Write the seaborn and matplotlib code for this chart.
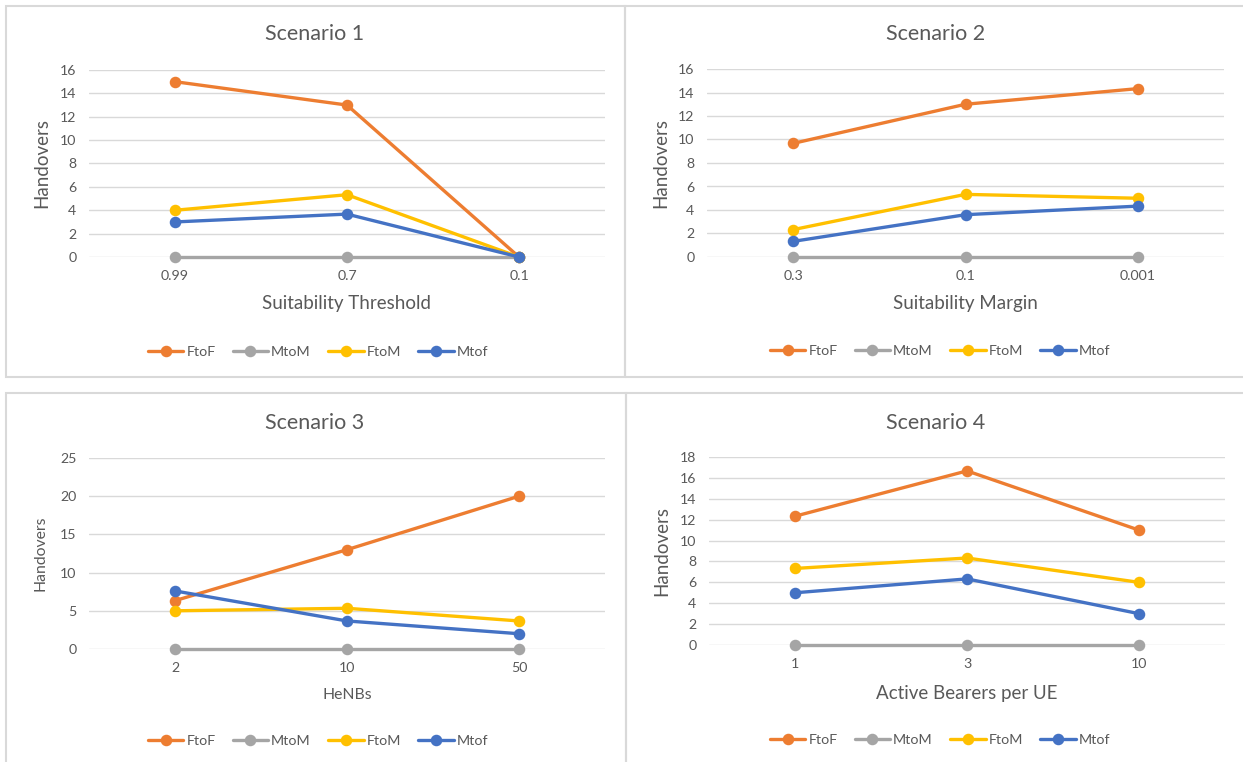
import matplotlib
matplotlib.use("Agg")
import matplotlib.pyplot as plt
from matplotlib.patches import Rectangle
import pandas as pd
import seaborn as sns

# ---- data -------------------------------------------------------------
series = ["FtoF", "MtoM", "FtoM", "Mtof"]
colors = ["#ED7D31", "#A5A5A5", "#FFC000", "#4472C4"]

s1_cats = ["0.99", "0.7", "0.1"]
s1_ftof = [15, 13, 0]
s1_mtom = [0, 0, 0]
s1_ftom = [4, 5.33, 0]
s1_mtof = [3, 3.67, 0]

s2_cats = ["0.3", "0.1", "0.001"]
s2_ftof = [9.67, 13, 14.33]
s2_mtom = [0, 0, 0]
s2_ftom = [2.33, 5.33, 5]
s2_mtof = [1.33, 3.6, 4.33]

s3_cats = ["2", "10", "50"]
s3_ftof = [6.33, 13, 20]
s3_mtom = [0, 0, 0]
s3_ftom = [5, 5.33, 3.67]
s3_mtof = [7.6, 3.67, 2]

s4_cats = ["1", "3", "10"]
s4_ftof = [12.33, 16.67, 11]
s4_mtom = [0, 0, 0]
s4_ftom = [7.33, 8.33, 6]
s4_mtof = [5, 6.33, 3]

titles = ["Scenario 1", "Scenario 2", "Scenario 3", "Scenario 4"]
xlabels = ["Suitability Threshold", "Suitability Margin", "HeNBs", "Active Bearers per UE"]
ylabel = "Handovers"
yticks = [list(range(0, 17, 2)), list(range(0, 17, 2)), list(range(0, 26, 5)), list(range(0, 19, 2))]


def long_frame(cats, *vals):
    rows = []
    for name, v in zip(series, vals):
        for c, y in zip(cats, v):
            rows.append({"cat": c, "val": y, "series": name})
    return pd.DataFrame(rows)


frames = [
    long_frame(s1_cats, s1_ftof, s1_mtom, s1_ftom, s1_mtof),
    long_frame(s2_cats, s2_ftof, s2_mtom, s2_ftom, s2_mtof),
    long_frame(s3_cats, s3_ftof, s3_mtom, s3_ftom, s3_mtof),
    long_frame(s4_cats, s4_ftof, s4_mtom, s4_ftom, s4_mtof),
]
cat_lists = [s1_cats, s2_cats, s3_cats, s4_cats]

# ---- layout (pixels) --------------------------------------------------
W, H = 1243, 762
sns.set_theme(style="white")
plt.rcParams["font.family"] = ["Lato", "DejaVu Sans"]

TXT = "#595959"
GRID = "#D9D9D9"

fig = plt.figure(figsize=(W / 100, H / 100), dpi=100)
fig.patch.set_facecolor("white")


def fx(x):
    return x / W


def fy(y):
    return 1 - y / H


# chart frames
frames_px = [(6, 6, 625, 377), (625, 6, 1250, 377), (6, 393, 626, 775), (626, 393, 1250, 775)]
for x0, y0, x1, y1 in frames_px:
    fig.add_artist(Rectangle((fx(x0), fy(y1)), (x1 - x0) / W, (y1 - y0) / H,
                             transform=fig.transFigure, fill=False,
                             edgecolor=GRID, lw=1.5))

# plot areas: left, right, top, bottom
axes_px = [(89, 605, 70, 257), (707, 1224, 69, 257), (89, 605, 458, 649), (709, 1225, 457, 645)]
title_px = [(315, 34), (936, 34), (315, 423), (936, 423)]
xlab_y = [304, 304, 695, 693]
ylab_x = [42, 661, 40, 662]
legend_px = [(318, 352), (940, 351), (318, 741), (940, 740)]
label_sizes = [13.5, 13.5, 11.3, 13.5]

palette = dict(zip(series, colors))

for i in range(4):
    l, r, t, b = axes_px[i]
    ax = fig.add_axes([fx(l), fy(b), (r - l) / W, (b - t) / H])
    sns.pointplot(data=frames[i], x="cat", y="val", hue="series",
                  order=cat_lists[i], hue_order=series, palette=palette,
                  markers="o", linestyles="-", errorbar=None, ax=ax,
                  linewidth=2.4, markersize=6.5)
    for ln in ax.lines:
        ln.set_clip_on(False)
        ln.set_solid_capstyle("round")
    ax.set_xlim(-0.5, 2.5)
    ax.set_ylim(0, yticks[i][-1])
    ax.set_yticks(yticks[i])
    ax.yaxis.grid(True, color=GRID, lw=1)
    ax.xaxis.grid(False)
    ax.set_axisbelow(True)
    for sp in ax.spines.values():
        sp.set_visible(False)
    ax.tick_params(axis="both", length=0, colors=TXT, labelsize=10.2)
    ax.tick_params(axis="y", pad=9)
    ax.tick_params(axis="x", pad=9.5)

    # axis titles
    ax.set_xlabel(xlabels[i], color=TXT, fontsize=label_sizes[i])
    ax.set_ylabel(ylabel, color=TXT, fontsize=label_sizes[i])
    ax.xaxis.label.set_va("center")
    ax.yaxis.label.set_va("center")
    ax.xaxis.set_label_coords(0.5, (b - xlab_y[i]) / (b - t))
    ax.yaxis.set_label_coords((ylab_x[i] - l) / (r - l), 0.5)

    # chart title
    tx, ty = title_px[i]
    fig.text(fx(tx), fy(ty), titles[i], ha="center", va="center",
             color=TXT, fontsize=15.5)

    # legend below the plot
    handles, labels = ax.get_legend_handles_labels()
    if ax.get_legend() is not None:
        ax.get_legend().remove()
    lx, ly = legend_px[i]
    ax.legend(handles, labels, loc="center", bbox_to_anchor=(fx(lx), fy(ly)),
              bbox_transform=fig.transFigure, ncol=4, frameon=False,
              handlelength=2.5, handletextpad=0.2, columnspacing=1.2,
              fontsize=10.3, labelcolor=TXT, borderpad=0)

fig.savefig("out.png", dpi=100, facecolor="white")
